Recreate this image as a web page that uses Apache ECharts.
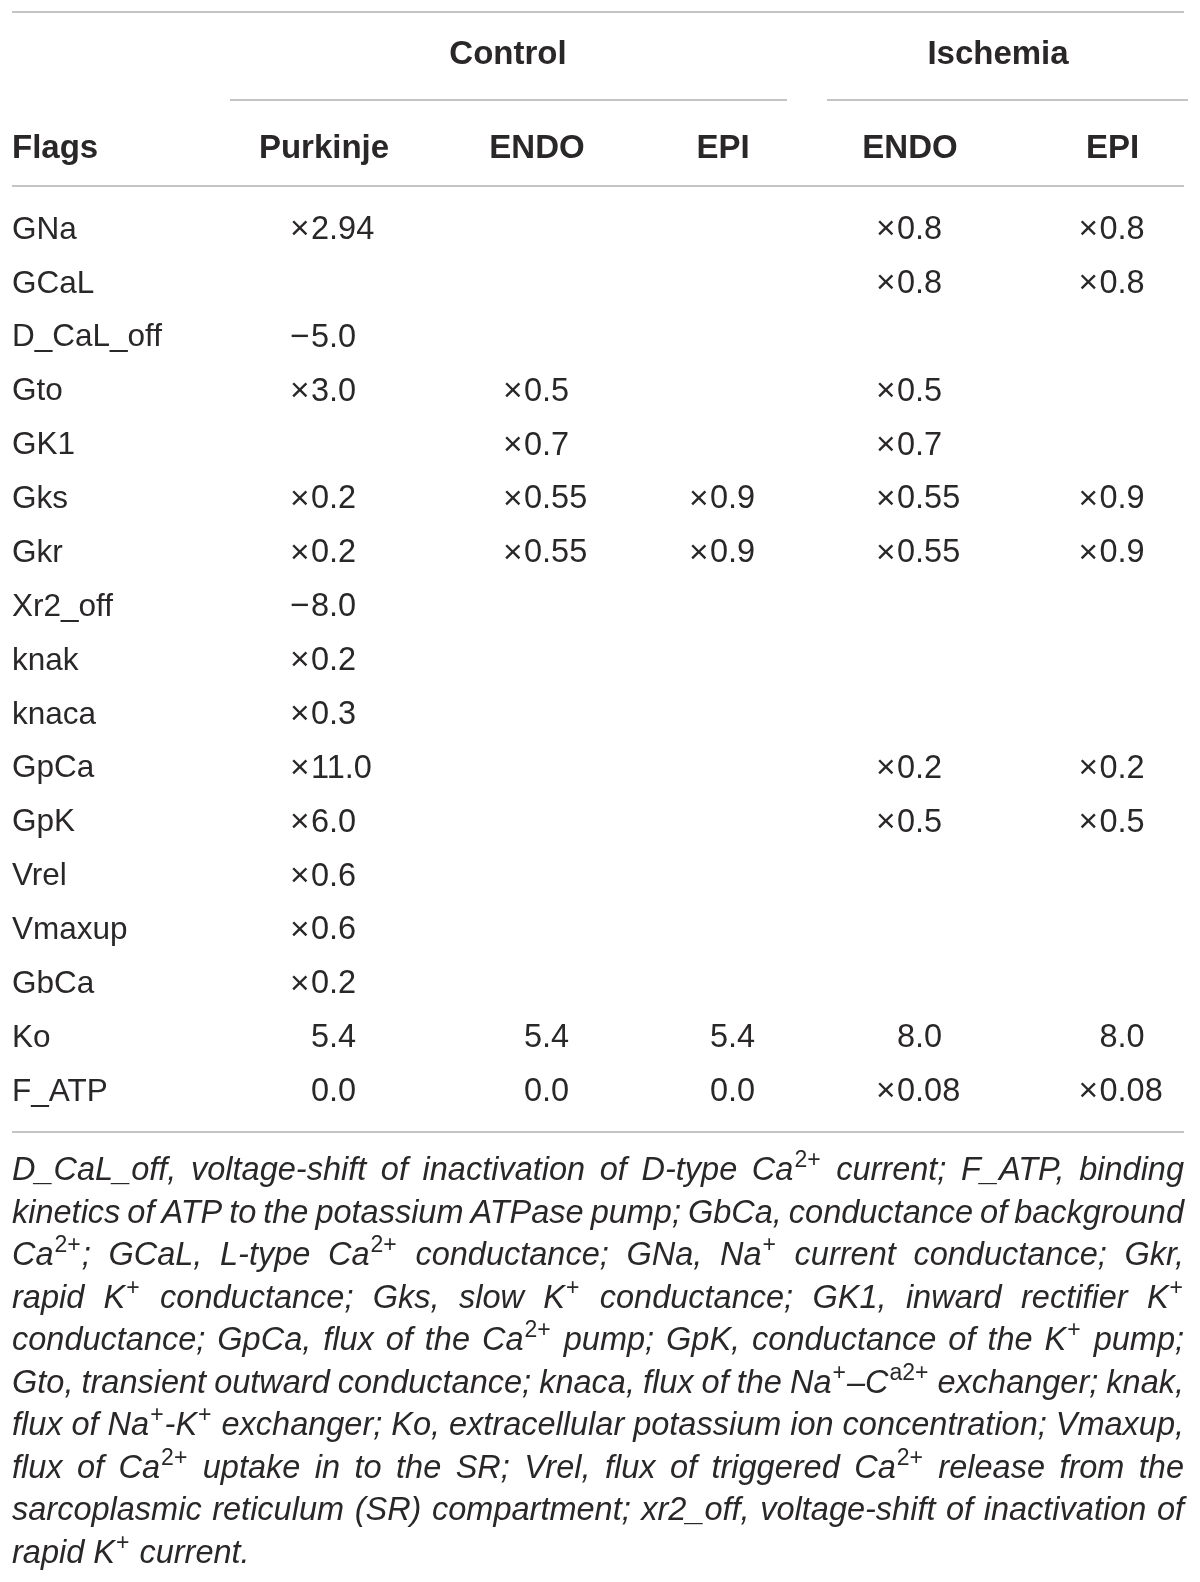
<!DOCTYPE html>
<html>
<head>
<meta charset="utf-8">
<script src="https://cdn.jsdelivr.net/npm/echarts@6/dist/echarts.min.js"></script>
<style>
html, body { margin: 0; padding: 0; background: #fff; }
#chart { width: 1200px; height: 1582px; }
</style>
</head>
<body>
<div id="chart"></div>
<script>
// table content
var flags = ['GNa', 'GCaL', 'D_CaL_off', 'Gto', 'GK1', 'Gks', 'Gkr', 'Xr2_off', 'knak', 'knaca',
  'GpCa', 'GpK', 'Vrel', 'Vmaxup', 'GbCa', 'Ko', 'F_ATP'];
var groups = ['Control', 'Ischemia'];
var columns = ['Purkinje', 'ENDO', 'EPI', 'ENDO', 'EPI'];
var ctrlPurkinje = ['×2.94', '', '−5.0', '×3.0', '', '×0.2', '×0.2', '−8.0', '×0.2', '×0.3',
  '×11.0', '×6.0', '×0.6', '×0.6', '×0.2', '5.4', '0.0'];
var ctrlEndo = ['', '', '', '×0.5', '×0.7', '×0.55', '×0.55', '', '', '',
  '', '', '', '', '', '5.4', '0.0'];
var ctrlEpi = ['', '', '', '', '', '×0.9', '×0.9', '', '', '',
  '', '', '', '', '', '5.4', '0.0'];
var ischEndo = ['×0.8', '×0.8', '', '×0.5', '×0.7', '×0.55', '×0.55', '', '', '',
  '×0.2', '×0.5', '', '', '', '8.0', '×0.08'];
var ischEpi = ['×0.8', '×0.8', '', '', '', '×0.9', '×0.9', '', '', '',
  '×0.2', '×0.5', '', '', '', '8.0', '×0.08'];
var colValues = [ctrlPurkinje, ctrlEndo, ctrlEpi, ischEndo, ischEpi];
// footnote, one entry per printed line, ^{..} = superscript
var notes = [
  'D_CaL_off, voltage-shift of inactivation of D-type Ca^{2+} current; F_ATP, binding',
  'kinetics of ATP to the potassium ATPase pump; GbCa, conductance of background',
  'Ca^{2+}; GCaL, L-type Ca^{2+} conductance; GNa, Na^{+} current conductance; Gkr,',
  'rapid K^{+} conductance; Gks, slow K^{+} conductance; GK1, inward rectifier K^{+}',
  'conductance; GpCa, flux of the Ca^{2+} pump; GpK, conductance of the K^{+} pump;',
  'Gto, transient outward conductance; knaca, flux of the Na^{+}–C^{a2+} exchanger; knak,',
  'flux of Na^{+}-K^{+} exchanger; Ko, extracellular potassium ion concentration; Vmaxup,',
  'flux of Ca^{2+} uptake in to the SR; Vrel, flux of triggered Ca^{2+} release from the',
  'sarcoplasmic reticulum (SR) compartment; xr2_off, voltage-shift of inactivation of',
  'rapid K^{+} current.'
];

// layout
var FONT = "'Liberation Sans', Arial, Helvetica, sans-serif";
var INK = '#2a2728';
var RULE = '#c4c4c4';
var colCenter = [324, 537, 723, 910, 1115];
var groupCenter = [508, 998];
var rowTop = 203.1, rowH = 53.875;
var textL = 12, textR = 1184;
var BODY = 31.5, NUM = 32.5, HEAD = 33;

var chart = echarts.init(document.getElementById('chart'));

var grids = [], xAxes = [], yAxes = [], series = [];
columns.forEach(function (name, i) {
  grids.push({ left: colCenter[i] - 90, width: 180, top: rowTop, height: rowH * flags.length });
  xAxes.push({
    type: 'category', gridIndex: i, position: 'top', data: [name],
    axisLine: { show: false }, axisTick: { show: false }, splitLine: { show: false },
    axisLabel: { fontFamily: FONT, fontWeight: 'bold', fontSize: HEAD, color: INK,
      margin: rowTop - 149, verticalAlign: 'middle' }
  });
  yAxes.push({
    type: 'category', gridIndex: i, inverse: true, data: flags,
    axisLine: { show: false }, axisTick: { show: false }, splitLine: { show: false },
    axisLabel: i === 0
      ? { fontFamily: FONT, fontSize: BODY, color: INK, align: 'left',
          margin: colCenter[0] - 90 - textL }
      : { show: false }
  });
  var cells = [], texts = [];
  colValues[i].forEach(function (v, r) {
    if (v) { cells.push([0, r]); texts.push(v); }
  });
  series.push({
    type: 'custom', xAxisIndex: i, yAxisIndex: i, data: cells, silent: true,
    renderItem: function (params, api) {
      var p = api.coord([api.value(0), api.value(1)]);
      var t = texts[params.dataIndex];
      var sign = /^[×−]/.test(t) ? t.charAt(0) : '';
      var num = sign ? t.slice(1) : t;
      var ax = p[0] - 13;
      var kids = [{
        type: 'text',
        style: { text: num, x: ax, y: p[1], align: 'left', verticalAlign: 'middle',
          fontFamily: FONT, fontSize: NUM, fill: INK }
      }];
      if (sign) {
        kids.push({
          type: 'text',
          style: { text: sign, x: ax - 1.5, y: p[1], align: 'right', verticalAlign: 'middle',
            fontFamily: FONT, fontSize: NUM + 1, fill: INK }
        });
      }
      return { type: 'group', children: kids };
    }
  });
});

// rules and group headers
var graphic = [];
function rule(x1, y, x2) {
  graphic.push({ type: 'line', shape: { x1: x1, y1: y, x2: x2, y2: y },
    style: { stroke: RULE, lineWidth: 2 } });
}
rule(textL, 12, textR);
rule(230, 100, 787);
rule(827, 100, 1188);
rule(textL, 186, textR);
rule(textL, 1132, textR);
groups.forEach(function (g, i) {
  graphic.push({ type: 'text', x: groupCenter[i], y: 55,
    style: { text: g, align: 'center', verticalAlign: 'middle', fontFamily: FONT,
      fontWeight: 'bold', fontSize: HEAD, fill: INK } });
});
graphic.push({ type: 'text', x: textL, y: 149,
  style: { text: 'Flags', align: 'left', verticalAlign: 'middle', fontFamily: FONT,
    fontWeight: 'bold', fontSize: HEAD, fill: INK } });

// justified italic footnote (superscripts upright)
var NOTE_SIZE = 32.5, SUP_SIZE = 23, MIN_GAP = 5;
var ctx = document.createElement('canvas').getContext('2d');
function measure(t, size, sup) {
  ctx.font = (sup ? 'normal ' : 'italic ') + size + 'px ' + FONT;
  return ctx.measureText(t).width;
}
function parseWord(word) {
  var segs = [], re = /\^\{([^}]*)\}/g, last = 0, m;
  while ((m = re.exec(word))) {
    if (m.index > last) segs.push({ t: word.slice(last, m.index), sup: false });
    segs.push({ t: m[1], sup: true });
    last = re.lastIndex;
  }
  if (last < word.length) segs.push({ t: word.slice(last), sup: false });
  segs.forEach(function (s) {
    s.w = measure(s.t, s.sup ? SUP_SIZE : NOTE_SIZE, s.sup) + (s.sup ? 2 : 0);
  });
  return segs;
}
notes.forEach(function (line, li) {
  var y = 1171 + li * 42.5;
  var words = line.split(' ').map(parseWord);
  var widths = words.map(function (segs) {
    return segs.reduce(function (a, s) { return a + s.w; }, 0);
  });
  var sum = widths.reduce(function (a, b) { return a + b; }, 0);
  var n = words.length, full = textR - textL, scale = 1, gap;
  if (li === notes.length - 1) {
    gap = measure(' ', NOTE_SIZE, false);
  } else {
    gap = (full - sum) / (n - 1);
    if (gap < MIN_GAP) {
      scale = (full - MIN_GAP * (n - 1)) / sum;
      gap = MIN_GAP;
    }
  }
  var x = textL;
  words.forEach(function (segs) {
    segs.forEach(function (s) {
      graphic.push({ type: 'text', x: s.sup ? x + 1 : x, y: s.sup ? y - 10 : y, scaleX: scale,
        style: { text: s.t, x: 0, y: 0, align: 'left', verticalAlign: 'middle',
          fontFamily: FONT, fontStyle: s.sup ? 'normal' : 'italic',
          fontSize: s.sup ? SUP_SIZE : NOTE_SIZE, fill: INK } });
      x += s.w * scale;
    });
    x += gap;
  });
});

chart.setOption({
  animation: false,
  backgroundColor: '#fff',
  grid: grids,
  xAxis: xAxes,
  yAxis: yAxes,
  series: series,
  graphic: graphic
});
</script>
</body>
</html>
